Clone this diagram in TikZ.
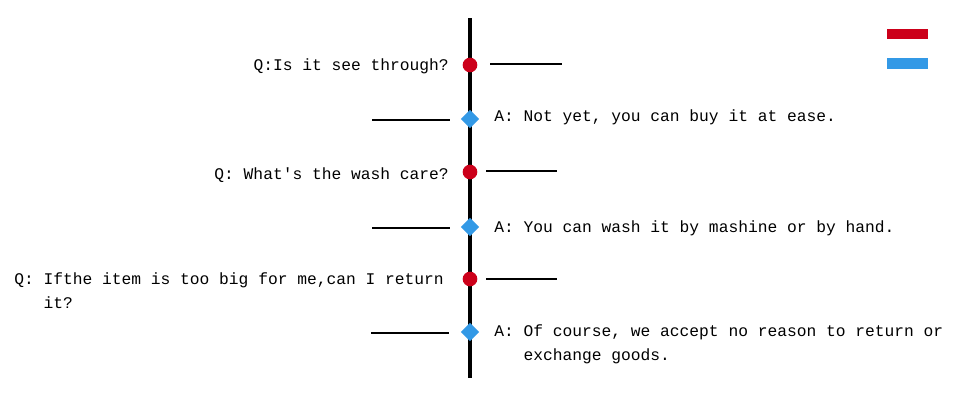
\documentclass[tikz,border=0pt]{standalone}
\usepackage{fontspec}
\setmonofont{Liberation Mono}
\usetikzlibrary{shapes.geometric}
\definecolor{qred}{RGB}{204,0,26}
\definecolor{ablue}{RGB}{51,153,230}
\begin{document}
\begin{tikzpicture}[x=0.75pt,y=-0.75pt,
  txt/.style={font=\ttfamily\fontsize{12.2}{18}\selectfont,inner sep=0pt,align=left},
  qdot/.style={circle,fill=qred,inner sep=0pt,minimum size=11pt},
  adot/.style={diamond,fill=ablue,inner sep=0pt,minimum size=14pt},
  tick/.style={line width=1.3pt},
  ax/.style={line width=2.4pt}]
\useasboundingbox (0,0) rectangle (960,400);
\coordinate (t) at (470,18); \coordinate (b) at (470,378);
\draw[ax] (t) -- (b);
\fill[qred] (887,29) rectangle (928,39);
\fill[ablue] (887,58) rectangle (928,69);
% Q1
\node[qdot] (q1) at (470,65) {};
\coordinate (q1a) at (490,64); \coordinate (q1b) at (562,64);
\draw[tick] (q1a) -- (q1b);
\node[txt,anchor=east] (q1t) at (449,66) {Q:Is it see through?};
% A1
\node[adot] (a1) at (470,119) {};
\coordinate (a1a) at (372,120); \coordinate (a1b) at (450,120);
\draw[tick] (a1a) -- (a1b);
\node[txt,anchor=west] (a1t) at (494,117) {A: Not yet, you can buy it at ease.};
% Q2
\node[qdot] (q2) at (470,172) {};
\coordinate (q2a) at (486,171); \coordinate (q2b) at (557,171);
\draw[tick] (q2a) -- (q2b);
\node[txt,anchor=east] (q2t) at (449,175) {Q: What's the wash care?};
% A2
\node[adot] (a2) at (470,227) {};
\coordinate (a2a) at (372,228); \coordinate (a2b) at (450,228);
\draw[tick] (a2a) -- (a2b);
\node[txt,anchor=west] (a2t) at (494,228) {A: You can wash it by mashine or by hand.};
% Q3
\node[qdot] (q3) at (470,279) {};
\coordinate (q3a) at (486,279); \coordinate (q3b) at (557,279);
\draw[tick] (q3a) -- (q3b);
\node[txt,anchor=north west] (q3t) at (14,272) {Q: Ifthe item is too big for me,can I return\\\phantom{Q: }it?};
% A3
\node[adot] (a3) at (470,332) {};
\coordinate (a3a) at (371,333); \coordinate (a3b) at (449,333);
\draw[tick] (a3a) -- (a3b);
\node[txt,anchor=north west] (a3t) at (494,324) {A: Of course, we accept no reason to return or\\\phantom{A: }exchange goods.};
\end{tikzpicture}
\end{document}
